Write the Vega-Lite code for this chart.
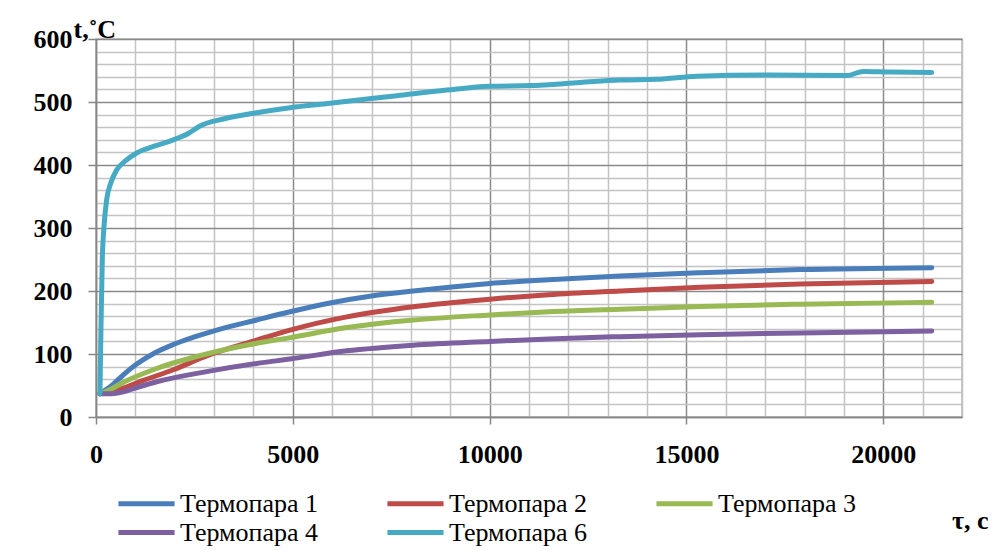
{
  "$schema": "https://vega.github.io/schema/vega-lite/v6.json",
  "width": 866,
  "height": 378,
  "autosize": {"type": "none"},
  "padding": {"left": 96, "top": 39, "right": 44, "bottom": 133},
  "background": "white",
  "config": {
    "view": {"stroke": "#b4b4b4", "strokeWidth": 1.5},
    "font": "Liberation Serif"
  },
  "data": {
    "values": [
      {"s": "Термопара 1", "t": 100, "v": 37},
      {"s": "Термопара 1", "t": 400, "v": 50},
      {"s": "Термопара 1", "t": 694, "v": 67},
      {"s": "Термопара 1", "t": 1034, "v": 84},
      {"s": "Термопара 1", "t": 1500, "v": 102},
      {"s": "Термопара 1", "t": 1964, "v": 115},
      {"s": "Термопара 1", "t": 2500, "v": 127},
      {"s": "Термопара 1", "t": 3066, "v": 138},
      {"s": "Термопара 1", "t": 4082, "v": 154},
      {"s": "Термопара 1", "t": 4929, "v": 167},
      {"s": "Термопара 1", "t": 5945, "v": 181},
      {"s": "Термопара 1", "t": 7000, "v": 192},
      {"s": "Термопара 1", "t": 8062, "v": 200},
      {"s": "Термопара 1", "t": 10010, "v": 212},
      {"s": "Термопара 1", "t": 11500, "v": 218},
      {"s": "Термопара 1", "t": 13313, "v": 224},
      {"s": "Термопара 1", "t": 15346, "v": 229},
      {"s": "Термопара 1", "t": 17886, "v": 234},
      {"s": "Термопара 1", "t": 21232, "v": 237},

      {"s": "Термопара 2", "t": 100, "v": 37},
      {"s": "Термопара 2", "t": 400, "v": 40},
      {"s": "Термопара 2", "t": 694, "v": 46},
      {"s": "Термопара 2", "t": 1200, "v": 58},
      {"s": "Термопара 2", "t": 1964, "v": 75},
      {"s": "Термопара 2", "t": 2810, "v": 97},
      {"s": "Термопара 2", "t": 4082, "v": 122},
      {"s": "Термопара 2", "t": 4929, "v": 138},
      {"s": "Термопара 2", "t": 6370, "v": 159},
      {"s": "Термопара 2", "t": 8062, "v": 175},
      {"s": "Термопара 2", "t": 10010, "v": 187},
      {"s": "Термопара 2", "t": 11500, "v": 194},
      {"s": "Термопара 2", "t": 13313, "v": 200},
      {"s": "Термопара 2", "t": 15346, "v": 206},
      {"s": "Термопара 2", "t": 17886, "v": 211},
      {"s": "Термопара 2", "t": 21232, "v": 215},

      {"s": "Термопара 3", "t": 100, "v": 37},
      {"s": "Термопара 3", "t": 400, "v": 45},
      {"s": "Термопара 3", "t": 694, "v": 55},
      {"s": "Термопара 3", "t": 1542, "v": 77},
      {"s": "Термопара 3", "t": 2810, "v": 100},
      {"s": "Термопара 3", "t": 4082, "v": 117},
      {"s": "Термопара 3", "t": 4929, "v": 126},
      {"s": "Термопара 3", "t": 6370, "v": 142},
      {"s": "Термопара 3", "t": 8062, "v": 154},
      {"s": "Термопара 3", "t": 10010, "v": 162},
      {"s": "Термопара 3", "t": 11500, "v": 167},
      {"s": "Термопара 3", "t": 13313, "v": 171},
      {"s": "Термопара 3", "t": 15346, "v": 175.5},
      {"s": "Термопара 3", "t": 17886, "v": 179},
      {"s": "Термопара 3", "t": 21232, "v": 182},

      {"s": "Термопара 4", "t": 100, "v": 37},
      {"s": "Термопара 4", "t": 400, "v": 37},
      {"s": "Термопара 4", "t": 694, "v": 40},
      {"s": "Термопара 4", "t": 1100, "v": 48},
      {"s": "Термопара 4", "t": 1542, "v": 56},
      {"s": "Термопара 4", "t": 2810, "v": 72},
      {"s": "Термопара 4", "t": 4082, "v": 85},
      {"s": "Термопара 4", "t": 4929, "v": 92},
      {"s": "Термопара 4", "t": 6370, "v": 105},
      {"s": "Термопара 4", "t": 8062, "v": 114},
      {"s": "Термопара 4", "t": 10010, "v": 120},
      {"s": "Термопара 4", "t": 11500, "v": 124},
      {"s": "Термопара 4", "t": 13313, "v": 127.5},
      {"s": "Термопара 4", "t": 15346, "v": 130.5},
      {"s": "Термопара 4", "t": 17886, "v": 133.5},
      {"s": "Термопара 4", "t": 21232, "v": 136.5},

      {"s": "Термопара 6", "t": 100, "v": 37},
      {"s": "Термопара 6", "t": 127, "v": 144},
      {"s": "Термопара 6", "t": 160, "v": 250},
      {"s": "Термопара 6", "t": 203, "v": 302},
      {"s": "Термопара 6", "t": 271, "v": 345},
      {"s": "Термопара 6", "t": 373, "v": 371},
      {"s": "Термопара 6", "t": 525, "v": 392},
      {"s": "Термопара 6", "t": 737, "v": 406},
      {"s": "Термопара 6", "t": 1034, "v": 419},
      {"s": "Термопара 6", "t": 1542, "v": 431},
      {"s": "Термопара 6", "t": 1964, "v": 440},
      {"s": "Термопара 6", "t": 2345, "v": 450},
      {"s": "Термопара 6", "t": 2642, "v": 462},
      {"s": "Термопара 6", "t": 3235, "v": 473},
      {"s": "Термопара 6", "t": 4082, "v": 483},
      {"s": "Термопара 6", "t": 4929, "v": 491},
      {"s": "Термопара 6", "t": 5945, "v": 498},
      {"s": "Термопара 6", "t": 7640, "v": 510},
      {"s": "Термопара 6", "t": 8910, "v": 519},
      {"s": "Термопара 6", "t": 10010, "v": 525},
      {"s": "Термопара 6", "t": 11027, "v": 526},
      {"s": "Термопара 6", "t": 12297, "v": 531},
      {"s": "Термопара 6", "t": 13313, "v": 535},
      {"s": "Термопара 6", "t": 14245, "v": 536},
      {"s": "Термопара 6", "t": 15262, "v": 541},
      {"s": "Термопара 6", "t": 17040, "v": 543},
      {"s": "Термопара 6", "t": 19072, "v": 542},
      {"s": "Термопара 6", "t": 19495, "v": 548.5},
      {"s": "Термопара 6", "t": 20173, "v": 547.5},
      {"s": "Термопара 6", "t": 21232, "v": 547}
    ]
  },
  "mark": {"type": "line", "strokeWidth": 5, "strokeCap": "round", "strokeJoin": "round", "interpolate": "monotone", "clip": true},
  "encoding": {
    "x": {
      "field": "t",
      "type": "quantitative",
      "scale": {"domain": [0, 22000], "nice": false, "zero": false},
      "axis": {
        "title": "τ, c",
        "titleFont": "Liberation Serif",
        "titleFontSize": 26,
        "titleFontWeight": "bold",
        "titleColor": "black",
        "titleAlign": "right",
        "titleBaseline": "alphabetic",
        "titleAnchor": null,
        "titleX": 892,
        "titleY": 111,
        "values": [0,1000,2000,3000,4000,5000,6000,7000,8000,9000,10000,11000,12000,13000,14000,15000,16000,17000,18000,19000,20000,21000,22000],
        "format": "d",
        "labelExpr": "datum.value % 5000 === 0 && datum.value <= 20000 ? datum.label : ''",
        "labelFont": "Liberation Serif",
        "labelFontSize": 26,
        "labelFontWeight": "bold",
        "labelColor": "black",
        "labelPadding": 17,
        "labelFlush": false,
        "labelOverlap": false,
        "domainColor": "#868686",
        "domainWidth": 1.5,
        "tickSize": 7,
        "tickWidth": 1.5,
        "tickColor": {"condition": {"test": "datum.value % 5000 === 0 && datum.value <= 20000", "value": "#868686"}, "value": "transparent"},
        "grid": true,
        "gridWidth": 1.5,
        "gridColor": {"condition": {"test": "datum.value % 5000 === 0", "value": "#8a8a8a"}, "value": "#c3c3c3"}
      }
    },
    "y": {
      "field": "v",
      "type": "quantitative",
      "scale": {"domain": [0, 600], "nice": false},
      "axis": {
        "title": "t,˚C",
        "titleFont": "Liberation Serif",
        "titleFontSize": 26,
        "titleFontWeight": "bold",
        "titleColor": "black",
        "titleAngle": 0,
        "titleAlign": "left",
        "titleBaseline": "alphabetic",
        "titleAnchor": null,
        "titleX": -23,
        "titleY": -2,
        "values": [0,20,40,60,80,100,120,140,160,180,200,220,240,260,280,300,320,340,360,380,400,420,440,460,480,500,520,540,560,580,600],
        "labelExpr": "datum.value % 100 === 0 ? datum.label : ''",
        "labelFont": "Liberation Serif",
        "labelFontSize": 26,
        "labelFontWeight": "bold",
        "labelColor": "black",
        "labelPadding": 16,
        "labelFlush": false,
        "labelOverlap": false,
        "domainColor": "#868686",
        "domainWidth": 1.5,
        "tickSize": 8,
        "tickWidth": 1.5,
        "tickColor": {"condition": {"test": "datum.value % 100 === 0", "value": "#868686"}, "value": "transparent"},
        "grid": true,
        "gridWidth": 1.5,
        "gridColor": {"condition": {"test": "datum.value % 100 === 0", "value": "#8a8a8a"}, "value": "#c3c3c3"}
      }
    },
    "color": {
      "field": "s",
      "type": "nominal",
      "scale": {
        "domain": ["Термопара 1", "Термопара 2", "Термопара 3", "Термопара 4", "Термопара 6"],
        "range": ["#4a7ebb", "#be4b48", "#98b954", "#7d60a0", "#46aac5"]
      },
      "legend": {
        "title": null,
        "orient": "none",
        "legendX": 35,
        "legendY": 449,
        "direction": "horizontal",
        "columns": 3,
        "columnPadding": 59,
        "rowPadding": -2,
        "padding": 0,
        "symbolType": "M-2.16,0H2.16",
        "symbolSize": 676,
        "symbolStrokeWidth": 5,
        "symbolFillColor": "transparent",
        "labelOffset": 18,
        "labelFont": "Liberation Serif",
        "labelFontSize": 26,
        "labelColor": "black",
        "labelLimit": 400
      }
    }
  }
}
